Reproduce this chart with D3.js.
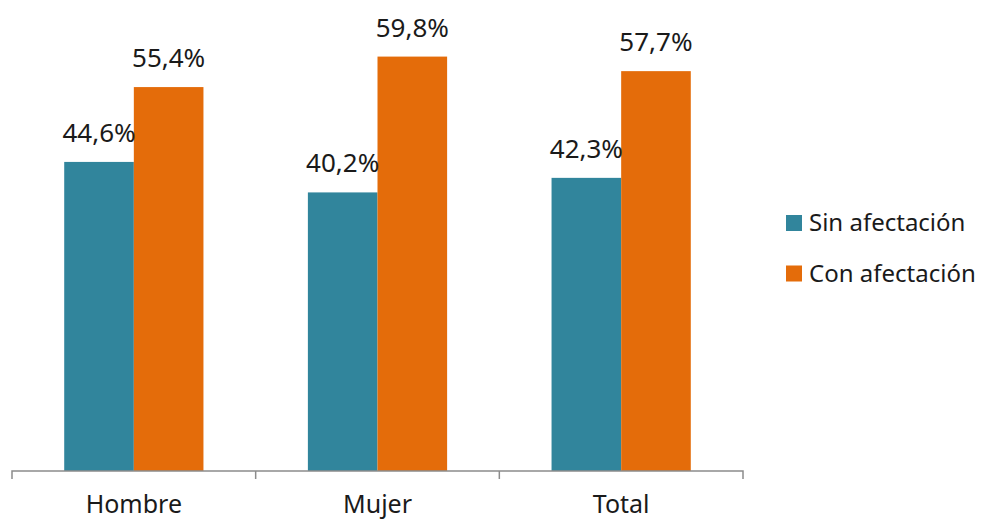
<!DOCTYPE html>
<html>
<head>
<meta charset="utf-8">
<script src="https://cdn.jsdelivr.net/npm/d3@7"></script>
<style>
  body { margin: 0; background: #fff; }
  text { font-family: "Noto Sans", Lato, sans-serif; fill: #1a1a1a; }
</style>
</head>
<body>
<div id="graphic"></div>
<script>
// data
const categories = ["Hombre", "Mujer", "Total"];
const series = ["Sin afectación", "Con afectación"];
const sinValues = [44.6, 40.2, 42.3];
const conValues = [55.4, 59.8, 57.7];
const colors = ["#31859C", "#E46C0A"];

const width = 988, height = 521;
const x0 = 12, x1 = 743, baseY = 471;

const svg = d3.select("#graphic").append("svg")
  .attr("width", width)
  .attr("height", height);

const x = d3.scaleBand()
  .domain(categories)
  .range([x0, x1])
  .paddingInner(0)
  .paddingOuter(0);

const xs = d3.scaleBand()
  .domain(series)
  .range([0, x.bandwidth()])
  .paddingOuter(0.75)
  .paddingInner(0);

// 6.93 px per percentage point
const y = d3.scaleLinear()
  .domain([0, 70])
  .range([baseY, baseY - 6.93 * 70]);

const rows = categories.map((c, i) => ({ cat: c, vals: [sinValues[i], conValues[i]] }));

const groups = svg.selectAll(".grp")
  .data(rows)
  .enter()
  .append("g")
  .attr("transform", d => `translate(${x(d.cat)},0)`);

groups.selectAll("rect")
  .data(d => d.vals.map((v, j) => ({ s: series[j], v: v, j: j })))
  .enter()
  .append("rect")
  .attr("x", d => xs(d.s))
  .attr("width", xs.bandwidth())
  .attr("y", d => y(d.v))
  .attr("height", d => baseY - y(d.v))
  .attr("fill", d => colors[d.j]);

groups.selectAll(".label")
  .data(d => d.vals.map((v, j) => ({ s: series[j], v: v })))
  .enter()
  .append("text")
  .attr("class", "label")
  .attr("x", d => xs(d.s) + xs.bandwidth() / 2)
  .attr("y", d => y(d.v) - 20)
  .attr("text-anchor", "middle")
  .attr("font-size", 26)
  .text(d => d.v.toFixed(1).replace(".", ",") + "%");

// x axis
const xAxis = d3.axisBottom(x).tickSize(0);
const gx = svg.append("g")
  .attr("transform", `translate(0,${baseY})`)
  .call(xAxis);
gx.select(".domain").attr("stroke", "#8c8c8c").attr("stroke-width", 1.5)
  .attr("d", `M${x0},8V0H${x1}V8`);
gx.selectAll(".tick text")
  .attr("y", 42).attr("dy", 0)
  .attr("font-size", 25).attr("fill", "#1a1a1a")
  .attr("font-family", "'Noto Sans', Lato, sans-serif");
// boundary ticks between categories
svg.append("g").selectAll("line")
  .data(categories.slice(1))
  .enter()
  .append("line")
  .attr("x1", d => x(d)).attr("x2", d => x(d))
  .attr("y1", baseY).attr("y2", baseY + 8)
  .attr("stroke", "#8c8c8c").attr("stroke-width", 1.5);

// legend
const legend = svg.append("g").attr("transform", "translate(786,215)");
const li = legend.selectAll("g")
  .data(series)
  .enter()
  .append("g")
  .attr("transform", (d, i) => `translate(0,${i * 50.5})`);
li.append("rect")
  .attr("width", 16).attr("height", 16)
  .attr("fill", (d, i) => colors[i]);
li.append("text")
  .attr("x", 23).attr("y", 16)
  .attr("font-size", 24)
  .text(d => d);
</script>
</body>
</html>
